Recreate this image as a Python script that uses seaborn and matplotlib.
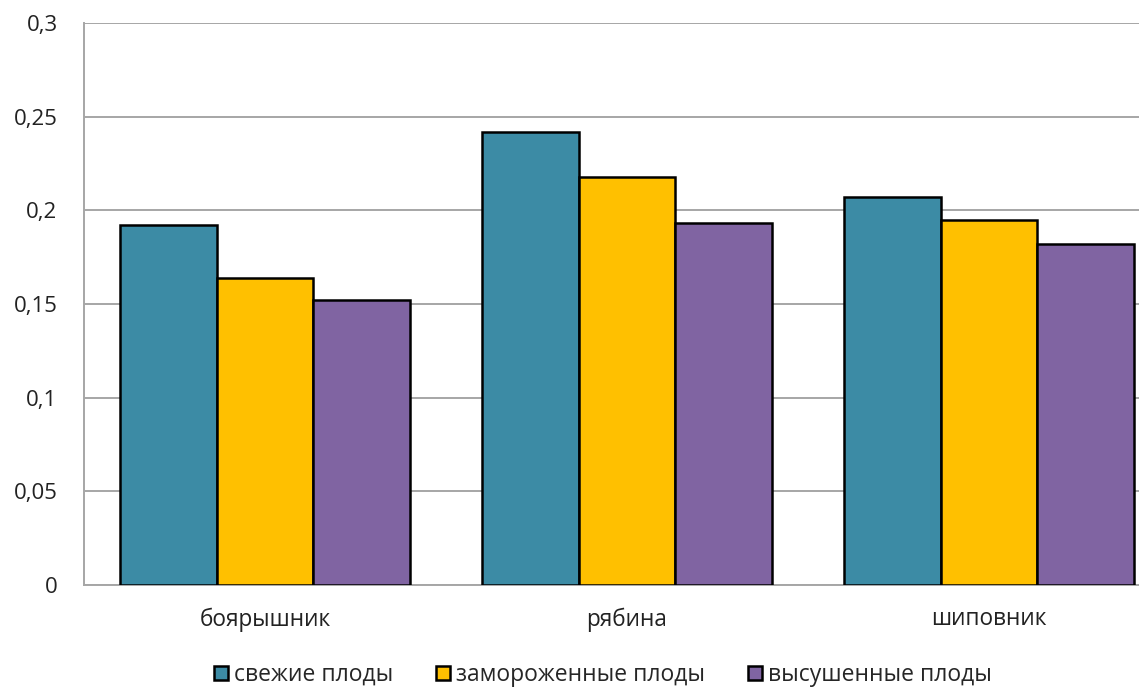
import matplotlib
matplotlib.use("Agg")
import matplotlib.pyplot as plt
import seaborn as sns
import pandas as pd
from matplotlib.ticker import FuncFormatter, MultipleLocator

categories = ["боярышник", "рябина", "шиповник"]
series_names = ["свежие плоды", "замороженные плоды", "высушенные плоды"]
fresh = [0.192, 0.242, 0.207]
frozen = [0.164, 0.218, 0.195]
dried = [0.152, 0.193, 0.182]
colors = ["#3C8BA5", "#FFC000", "#8064A2"]

rows = []
for name, vals in zip(series_names, [fresh, frozen, dried]):
    for c, v in zip(categories, vals):
        rows.append({"cat": c, "series": name, "value": v})
df = pd.DataFrame(rows)

sns.set_style("white")
plt.rcParams["font.family"] = ["Open Sans", "DejaVu Sans"]

W, H = 1139, 691
fig = plt.figure(figsize=(W / 100, H / 100), dpi=100)
ax = fig.add_axes([84 / W, 1 - 585 / H, 1086 / W, (585 - 23) / H])

sns.barplot(data=df, x="cat", y="value", hue="series", order=categories,
            hue_order=series_names, palette=colors, saturation=1, width=0.8,
            edgecolor="black", linewidth=1.8, ax=ax, errorbar=None, zorder=3)

ax.set_ylim(0, 0.3)
ax.set_xlim(-0.5, 2.5)
ax.yaxis.set_major_locator(MultipleLocator(0.05))
ax.yaxis.set_major_formatter(FuncFormatter(lambda v, p: ("%g" % round(v, 2)).replace(".", ",")))
ax.grid(axis="y", color="#A6A6A6", linewidth=1.4, zorder=0)
ax.set_axisbelow(True)
for s in ["top", "right"]:
    ax.spines[s].set_visible(False)
for s in ["left", "bottom"]:
    ax.spines[s].set_color("#A6A6A6")
    ax.spines[s].set_linewidth(1.4)
ax.tick_params(axis="y", length=0, labelsize=16, colors="#222222", pad=19)
ax.tick_params(axis="x", length=0, labelsize=16.3, colors="#222222", pad=16)
ax.set_xlabel("")
ax.set_ylabel("")

handles, labels = ax.get_legend_handles_labels()
ax.legend(handles, labels, loc="center", bbox_to_anchor=(603 / W, 1 - 675 / H),
          bbox_transform=fig.transFigure, ncol=3, frameon=False, fontsize=16.5,
          handlelength=0.6, handleheight=0.6, handletextpad=0.25, columnspacing=1.9,
          borderpad=0)

fig.savefig("out.png", dpi=100)
